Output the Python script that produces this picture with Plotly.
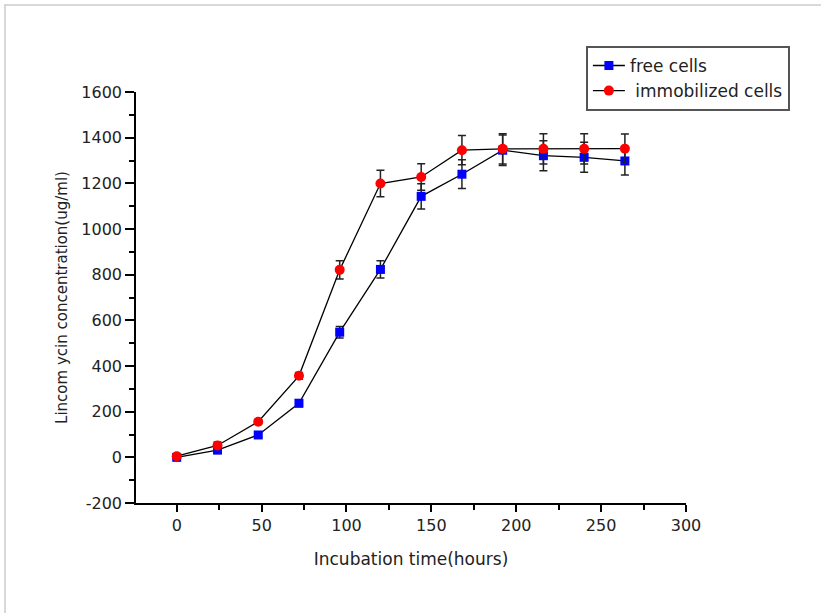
import plotly.graph_objects as go

time_h = [0, 24, 48, 72, 96, 120, 144, 168, 192, 216, 240, 264]
free_cells = [0, 32, 98, 237, 548, 823, 1143, 1240, 1345, 1321, 1314, 1298]
free_err = [10, 15, 12, 15, 25, 38, 55, 63, 67, 66, 66, 62]
immob_cells = [5, 52, 156, 357, 821, 1199, 1228, 1345, 1351, 1351, 1351, 1352]
immob_err = [10, 15, 10, 15, 40, 58, 58, 64, 66, 66, 66, 64]

x_ticks = [0, 50, 100, 150, 200, 250, 300]
x_labels = ["0", "50", "100", "150", "200", "250", "300"]
y_ticks = [-200, 0, 200, 400, 600, 800, 1000, 1200, 1400, 1600]
y_labels = ["-200", "0", "200", "400", "600", "800", "1000", "1200", "1400", "1600"]

FONT = "DejaVu Sans, Liberation Sans, Arial, sans-serif"
TXT = "#222222"

fig = go.Figure()
fig.add_trace(go.Scatter(
    x=time_h, y=free_cells, name="free cells", mode="lines+markers",
    line=dict(color="black", width=1.3),
    marker=dict(symbol="square", size=9, color="#0000FF"),
    error_y=dict(type="data", array=free_err, visible=True, color="#222222", thickness=1.5, width=4),
))
fig.add_trace(go.Scatter(
    x=time_h, y=immob_cells, name=" immobilized cells", mode="lines+markers",
    line=dict(color="black", width=1.3),
    marker=dict(symbol="circle", size=10, color="#FF0000"),
    error_y=dict(type="data", array=immob_err, visible=True, color="#222222", thickness=1.5, width=4),
))

axis_common = dict(
    showgrid=False, zeroline=False, showline=True, linecolor="black", linewidth=1.5,
    ticks="outside", tickcolor="black", tickwidth=1.5,
    tickfont=dict(family=FONT, size=16, color=TXT),
)

fig.update_xaxes(
    range=[-24, 300], tickvals=x_ticks, ticktext=x_labels, ticklen=7,
    minor=dict(dtick=25, tick0=0, ticks="outside", ticklen=5, tickcolor="black", tickwidth=1.5),
    title=dict(text="Incubation time(hours)", font=dict(family=FONT, size=17, color=TXT), standoff=19),
    **axis_common,
)
fig.update_yaxes(
    range=[-200, 1600], tickvals=y_ticks, ticktext=y_labels, ticklen=9,
    minor=dict(dtick=100, tick0=0, ticks="outside", ticklen=5, tickcolor="black", tickwidth=1.5),
    title=dict(text="Lincom ycin concentration(ug/ml)", font=dict(family=FONT, size=15, color=TXT), standoff=10),
    **axis_common,
)

# light frame lines of the original image
fig.add_shape(type="line", xref="paper", yref="paper", x0=-0.24, x1=1.25, y0=1.2117, y1=1.2117,
              line=dict(color="#cccccc", width=1.5))
fig.add_shape(type="line", xref="paper", yref="paper", x0=-0.2382, x1=-0.2382, y0=1.2117, y1=-0.27,
              line=dict(color="#cccccc", width=1.5))

fig.update_layout(
    width=821, height=613,
    margin=dict(l=136, r=135, t=92, b=110),
    paper_bgcolor="white", plot_bgcolor="white",
    showlegend=True,
    legend=dict(x=0.818, y=1.112, xanchor="left", yanchor="top",
                bgcolor="white", bordercolor="#555555", borderwidth=2,
                font=dict(family=FONT, size=17, color=TXT),
                tracegroupgap=0, itemwidth=32),
)

fig.write_html("out.html", config={"displayModeBar": False},
               post_script="document.body.style.margin='0';document.body.style.overflow='hidden';")
